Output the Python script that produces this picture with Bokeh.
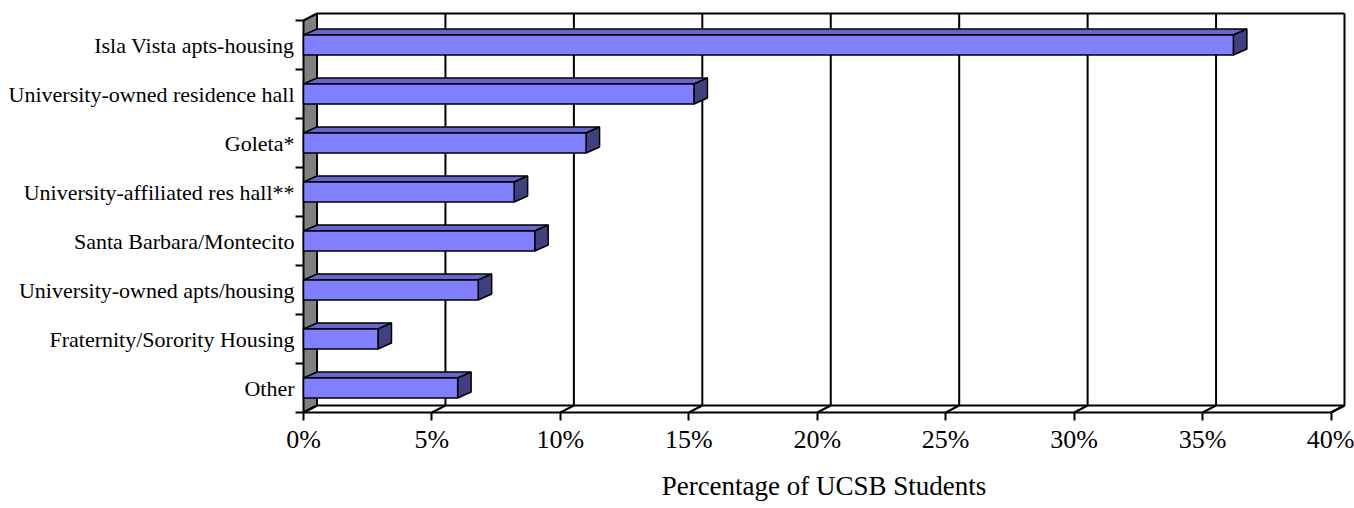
from bokeh.plotting import figure
from bokeh.models import FixedTicker, Range1d
from bokeh.embed import file_html
from bokeh.resources import INLINE

# ---- data ----
categories = [
    "Isla Vista apts-housing",
    "University-owned residence hall",
    "Goleta*",
    "University-affiliated res hall**",
    "Santa Barbara/Montecito",
    "University-owned apts/housing",
    "Fraternity/Sorority Housing",
    "Other",
]
values = [36.2, 15.2, 11.0, 8.2, 9.0, 6.8, 2.9, 6.0]
x_ticks = [0, 5, 10, 15, 20, 25, 30, 35, 40]
x_tick_labels = ["0%", "5%", "10%", "15%", "20%", "25%", "30%", "35%", "40%"]
x_title = "Percentage of UCSB Students"

# ---- layout / style ----
W, H = 1354, 508
ML, MR, MT, MB = 301, 8, 11, 94
PAD = 2.0
DX_PX, DY_PX = 13.5, 7.0      # wall depth (pixels)
BDX_PX, BDY_PX = 13.5, 6.0    # bar depth (pixels)
BAR_H = 0.41                  # bar thickness in category units
FONT = "Liberation Serif"
FRONT, TOP, SIDE = "#8080FF", "#6666CC", "#404080"

XMAX = x_ticks[-1]
N = len(categories)
frame_w = W - ML - MR
frame_h = H - MT - MB
kx = (frame_w - 2 * PAD - DX_PX) / XMAX
ky = (frame_h - 2 * PAD - DY_PX) / N
dx, dy = DX_PX / kx, DY_PX / ky
bdx, bdy = BDX_PX / kx, BDY_PX / ky

p = figure(width=W, height=H, output_backend="svg", toolbar_location=None,
           x_range=Range1d(-PAD / kx, XMAX + (DX_PX + PAD) / kx),
           y_range=Range1d(-PAD / ky, N + (DY_PX + PAD) / ky),
           min_border_left=ML, min_border_right=MR,
           min_border_top=MT, min_border_bottom=MB)
p.outline_line_color = None
p.xgrid.grid_line_color = None
p.ygrid.grid_line_color = None
p.background_fill_color = "white"
p.border_fill_color = "white"

# left wall
p.patch([0, dx, dx, 0], [0, dy, N + dy, N], fill_color="#808080",
        line_color="black", line_width=2)
# floor
p.patch([0, XMAX, XMAX + dx, dx], [0, 0, dy, dy], fill_color="white",
        line_color="black", line_width=2)
# back wall top edge
p.line([dx, XMAX + dx], [N + dy, N + dy], line_color="black", line_width=2)
# gridlines on back wall and floor
gx = [t + dx for t in x_ticks]
p.segment(x0=gx, y0=[dy] * len(gx), x1=gx, y1=[N + dy] * len(gx),
          line_color="black", line_width=2)
p.segment(x0=x_ticks, y0=[0] * len(x_ticks), x1=gx, y1=[dy] * len(gx),
          line_color="black", line_width=2)

# bars
yc = [N - i - 0.5 for i in range(N)]
yt = [y + BAR_H / 2 for y in yc]
yb = [y - BAR_H / 2 for y in yc]
top_xs = [[0, v, v + bdx, bdx] for v in values]
top_ys = [[t, t, t + bdy, t + bdy] for t in yt]
side_xs = [[v, v + bdx, v + bdx, v] for v in values]
side_ys = [[b, b + bdy, t + bdy, t] for b, t in zip(yb, yt)]
p.patches(top_xs, top_ys, fill_color=TOP, line_color="black", line_width=1.5)
p.patches(side_xs, side_ys, fill_color=SIDE, line_color="black", line_width=1.5)
p.quad(left=[0] * N, right=values, bottom=yb, top=yt, fill_color=FRONT,
       line_color="black", line_width=1.5)

# left axis (categories)
ya = p.yaxis[0]
ya.ticker = FixedTicker(ticks=yc, minor_ticks=list(range(N + 1)))
ya.major_label_overrides = {y: c for y, c in zip(yc, categories)}
ya.axis_line_color = None
ya.major_tick_line_color = None
ya.major_tick_out = 0
ya.major_tick_in = 0
ya.minor_tick_line_color = "black"
ya.minor_tick_line_width = 2
ya.minor_tick_out = 6
ya.minor_tick_in = 2
ya.major_label_standoff = 1
ya.major_label_text_font = FONT
ya.major_label_text_font_size = "22px"
ya.major_label_text_color = "black"

# bottom axis (percent)
xa = p.xaxis[0]
xa.ticker = FixedTicker(ticks=x_ticks, minor_ticks=[])
xa.major_label_overrides = {t: l for t, l in zip(x_ticks, x_tick_labels)}
xa.axis_line_color = None
xa.major_tick_line_color = "black"
xa.major_tick_line_width = 2
xa.major_tick_out = 6
xa.major_tick_in = 2
xa.minor_tick_line_color = None
xa.major_label_standoff = 4
xa.major_label_text_font = FONT
xa.major_label_text_font_size = "26px"
xa.major_label_text_color = "black"
xa.axis_label = x_title
xa.axis_label_text_font = FONT
xa.axis_label_text_font_size = "27px"
xa.axis_label_text_font_style = "normal"
xa.axis_label_text_color = "black"
xa.axis_label_standoff = 14

open("out.html", "w").write(file_html(p, INLINE))
